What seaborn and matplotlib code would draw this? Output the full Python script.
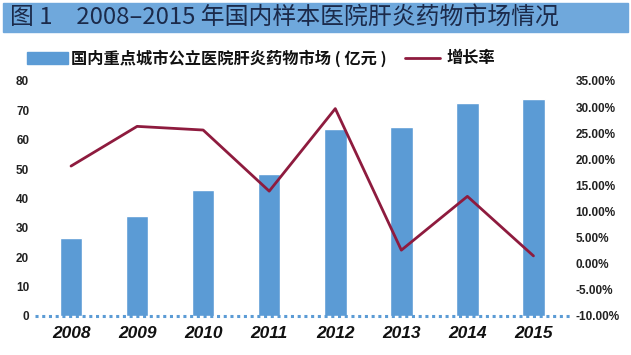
import matplotlib
matplotlib.use("Agg")
import matplotlib.pyplot as plt
import seaborn as sns
import pandas as pd
import numpy as np
from matplotlib.patches import Rectangle
from matplotlib.lines import Line2D

years = ["2008", "2009", "2010", "2011", "2012", "2013", "2014", "2015"]
market = [26.6, 34.0, 42.9, 48.3, 63.6, 64.4, 72.6, 73.8]
growth = [18.7, 26.3, 25.6, 13.9, 29.7, 2.6, 12.9, 1.5]
left_ticks = [0, 10, 20, 30, 40, 50, 60, 70, 80]
right_ticks = [-10, -5, 0, 5, 10, 15, 20, 25, 30, 35]

title = "图 1　2008–2015 年国内样本医院肝炎药物市场情况"
bar_label = "国内重点城市公立医院肝炎药物市场 ( 亿元 )"
line_label = "增长率"

sns.set_theme(style="white")
plt.rcParams['font.family'] = ['Noto Sans CJK SC', 'DejaVu Sans']

bar_color = "#5B9BD5"
line_color = "#8E1B3E"

df = pd.DataFrame({"year": years, "market": market, "growth": growth})

fig = plt.figure(figsize=(6.31, 3.55), dpi=100)
ax = fig.add_axes([0.055, 0.110, 0.848, 0.662])

sns.barplot(data=df, x="year", y="market", color=bar_color, width=0.34,
            saturation=1, ax=ax)
ax.set_ylim(0, 80)
ax.set_yticks(left_ticks)
ax.set_yticklabels([str(t) for t in left_ticks], fontsize=8.5, fontweight="bold",
                   color="#222222", family=["Liberation Sans", "DejaVu Sans"])
ax.set_xlabel("")
ax.set_ylabel("")
ax.tick_params(axis="both", length=0, pad=4)
for lab in ax.get_xticklabels():
    lab.set_fontstyle("italic")
    lab.set_fontweight("bold")
    lab.set_fontsize(12.5)
    lab.set_color("#111111")
    lab.set_family(["Liberation Sans", "DejaVu Sans"])
ax.tick_params(axis="x", pad=7)
for s in ax.spines.values():
    s.set_visible(False)
ax.axhline(0, color=bar_color, lw=2.2, ls=(0, (1, 1.2)), zorder=5, clip_on=False)

ax2 = ax.twinx()
sns.pointplot(data=df, x="year", y="growth", color=line_color, markers="",
              linewidth=2, ax=ax2)
ax2.set_ylim(-10, 35)
ax2.set_yticks(right_ticks)
ax2.set_yticklabels([f"{t:.2f}%" for t in right_ticks], fontsize=8.5,
                    fontweight="bold", color="#222222",
                    family=["Liberation Sans", "DejaVu Sans"])
ax2.set_ylabel("")
ax2.tick_params(axis="y", length=0, pad=4)
for s in ax2.spines.values():
    s.set_visible(False)
ax.set_xlim(-0.55, 7.55)
ax2.set_xlim(-0.55, 7.55)

# title band
fig.patches.append(Rectangle((0.005, 0.91), 0.99, 0.082, transform=fig.transFigure,
                             color="#6FA8DC", zorder=0))
fig.text(0.016, 0.951, title, fontsize=17.2, color="#1B2A4A", va="center",
         ha="left")

# legend
fig.patches.append(Rectangle((0.043, 0.820), 0.065, 0.034, transform=fig.transFigure,
                             color=bar_color))
fig.text(0.112, 0.837, bar_label, fontsize=11.7, fontweight="bold", color="#111111",
         va="center", ha="left")
fig.lines.append(Line2D([0.642, 0.698], [0.837, 0.837], transform=fig.transFigure,
                        color=line_color, lw=2))
fig.text(0.708, 0.837, line_label, fontsize=11.7, fontweight="bold", color="#111111",
         va="center", ha="left")

fig.savefig("out.png", dpi=100)
